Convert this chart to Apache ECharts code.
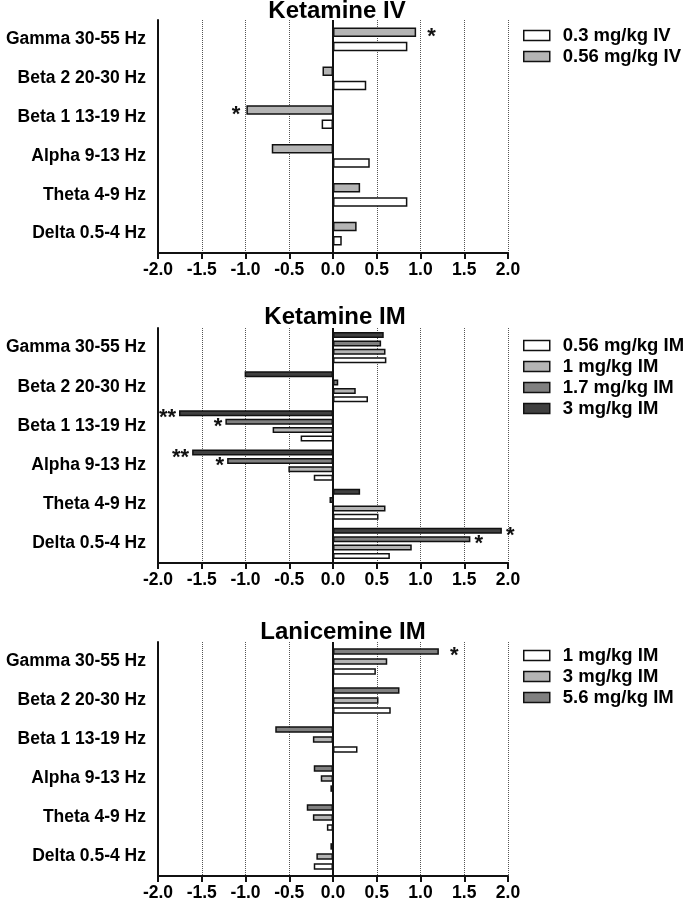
<!DOCTYPE html>
<html>
<head>
<meta charset="utf-8">
<script src="https://cdn.jsdelivr.net/npm/echarts@6/dist/echarts.min.js"></script>
<style>
html,body{margin:0;padding:0;background:#fff;}
#c{width:686px;height:904px;}
</style>
</head>
<body>
<div id="c"></div>
<script>
// ---- data ----
var categories = ['Gamma 30-55 Hz','Beta 2 20-30 Hz','Beta 1 13-19 Hz','Alpha 9-13 Hz','Theta 4-9 Hz','Delta 0.5-4 Hz'];
var xTicks = [-2.0,-1.5,-1.0,-0.5,0.0,0.5,1.0,1.5,2.0];

var titles = ['Ketamine IV','Ketamine IM','Lanicemine IM'];

// Ketamine IV
var ivNames = ['0.3 mg/kg IV','0.56 mg/kg IV'];
var iv03  = [0.85, 0.38, -0.13, 0.42, 0.85, 0.10];
var iv056 = [0.95, -0.12, -0.99, -0.70, 0.31, 0.27];
var iv03Sig  = ['','','','','',''];
var iv056Sig = ['*','','*','','',''];

// Ketamine IM
var imNames = ['0.56 mg/kg IM','1 mg/kg IM','1.7 mg/kg IM','3 mg/kg IM'];
var im056 = [0.61, 0.40, -0.37, -0.22, 0.52, 0.65];
var im1   = [0.60, 0.26, -0.69, -0.51, 0.60, 0.90];
var im17  = [0.55, 0.06, -1.23, -1.21, -0.04, 1.57];
var im3   = [0.58, -1.01, -1.76, -1.61, 0.31, 1.93];
var im056Sig = ['','','','','',''];
var im1Sig   = ['','','','','',''];
var im17Sig  = ['','','*','*','','*'];
var im3Sig   = ['','','**','**','','*'];

// Lanicemine IM
var lanNames = ['1 mg/kg IM','3 mg/kg IM','5.6 mg/kg IM'];
var lan1  = [0.49, 0.66, 0.28, -0.03, -0.07, -0.22];
var lan3  = [0.62, 0.52, -0.23, -0.14, -0.23, -0.19];
var lan56 = [1.21, 0.76, -0.66, -0.22, -0.30, -0.03];
var lan1Sig  = ['','','','','',''];
var lan3Sig  = ['','','','','',''];
var lan56Sig = ['*','','','','',''];

// ---- styling ----
var FONT = '"Liberation Sans", Arial, Helvetica, sans-serif';
var WHITE = '#ffffff', LIGHT = '#b4b4b4', MID = '#808080', DARK = '#404040';

var panels = [
  {top: 20, height: 233, titleTop: -1, titleX: 337, legendTop: 26, barWidth: 9.5, barGap: '50%', rdist: 11, ldist: 6,
   series: [
     {name: ivNames[1], data: iv056, sig: iv056Sig, color: LIGHT},
     {name: ivNames[0], data: iv03, sig: iv03Sig, color: WHITE}
   ], legend: [ivNames[0], ivNames[1]]},
  {top: 328, height: 235, titleTop: 305, titleX: 335, legendTop: 336, barWidth: 6, barGap: '40%', rdist: 4, ldist: 3,
   series: [
     {name: imNames[3], data: im3, sig: im3Sig, color: DARK},
     {name: imNames[2], data: im17, sig: im17Sig, color: MID},
     {name: imNames[1], data: im1, sig: im1Sig, color: LIGHT},
     {name: imNames[0], data: im056, sig: im056Sig, color: WHITE}
   ], legend: imNames.slice()},
  {top: 642, height: 234, titleTop: 620, titleX: 343, legendTop: 646, barWidth: 6.5, barGap: '55%', rdist: 11, ldist: 4,
   series: [
     {name: lanNames[2] + ' ', data: lan56, sig: lan56Sig, color: MID},
     {name: lanNames[1] + ' ', data: lan3, sig: lan3Sig, color: LIGHT},
     {name: lanNames[0] + ' ', data: lan1, sig: lan1Sig, color: WHITE}
   ], legend: [lanNames[0] + ' ', lanNames[1] + ' ', lanNames[2] + ' ']}
];

var option = {
  animation: false,
  backgroundColor: '#fff',
  title: [], grid: [], xAxis: [], yAxis: [], legend: [], series: []
};

panels.forEach(function(p, gi){
  option.title.push({
    text: titles[gi], left: p.titleX, top: p.titleTop, textAlign: 'center', padding: 0,
    textStyle: {fontFamily: FONT, fontSize: 24, fontWeight: 'bold', color: '#000'}
  });
  option.grid.push({left: 158, width: 350, top: p.top, height: p.height, containLabel: false});
  option.xAxis.push({
    type: 'value', gridIndex: gi, min: xTicks[0], max: xTicks[xTicks.length-1], interval: 0.5,
    axisLine: {show: true, onZero: false, lineStyle: {color: '#111', width: 2}},
    axisTick: {show: true, length: 6, lineStyle: {color: '#111', width: 2}},
    axisLabel: {margin: 8, color: '#000', fontFamily: FONT, fontSize: 17.5, fontWeight: 'bold',
      formatter: function(v){ return v.toFixed(1); }},
    splitLine: {show: true, lineStyle: {type: 'dotted', color: '#555', width: 1}}
  });
  option.yAxis.push({
    type: 'category', gridIndex: gi, data: categories, inverse: true,
    axisLine: {show: true, onZero: false, lineStyle: {color: '#111', width: 2}},
    axisTick: {show: false},
    axisLabel: {margin: 12, color: '#000', fontFamily: FONT, fontSize: 17.5, fontWeight: 'bold'},
    splitLine: {show: false}
  });
  option.legend.push({
    orient: 'vertical', left: 523, top: p.legendTop, itemWidth: 26, itemHeight: 10, itemGap: 2,
    icon: 'rect',
    data: p.legend, padding: 0, selectedMode: false,
    itemStyle: {borderColor: '#111', borderWidth: 1.5},
    textStyle: {fontFamily: FONT, fontSize: 18.5, fontWeight: 'bold', color: '#000', padding: [0,0,0,8]}
  });
  p.series.forEach(function(s, si){
    var items = s.data.map(function(v, i){
      var m = s.sig[i];
      if (!m) return v;
      return {value: v, label: {show: true, formatter: m, position: v >= 0 ? 'right' : 'left',
        distance: v >= 0 ? p.rdist : p.ldist, offset: [0, 5],
        fontFamily: FONT, fontSize: 22, fontWeight: 'bold', color: '#111'}};
    });
    var ser = {
      type: 'bar', name: s.name, xAxisIndex: gi, yAxisIndex: gi, data: items,
      barWidth: p.barWidth, barGap: p.barGap,
      itemStyle: {color: s.color, borderColor: '#111', borderWidth: 1.5},
      label: {show: false}
    };
    if (si === 0) {
      ser.markLine = {silent: true, symbol: 'none', label: {show: false},
        lineStyle: {color: '#111', width: 2, type: 'solid'}, data: [{xAxis: 0}]};
    }
    option.series.push(ser);
  });
});

var chart = echarts.init(document.getElementById('c'), null, {renderer: 'canvas'});
chart.setOption(option);
</script>
</body>
</html>
